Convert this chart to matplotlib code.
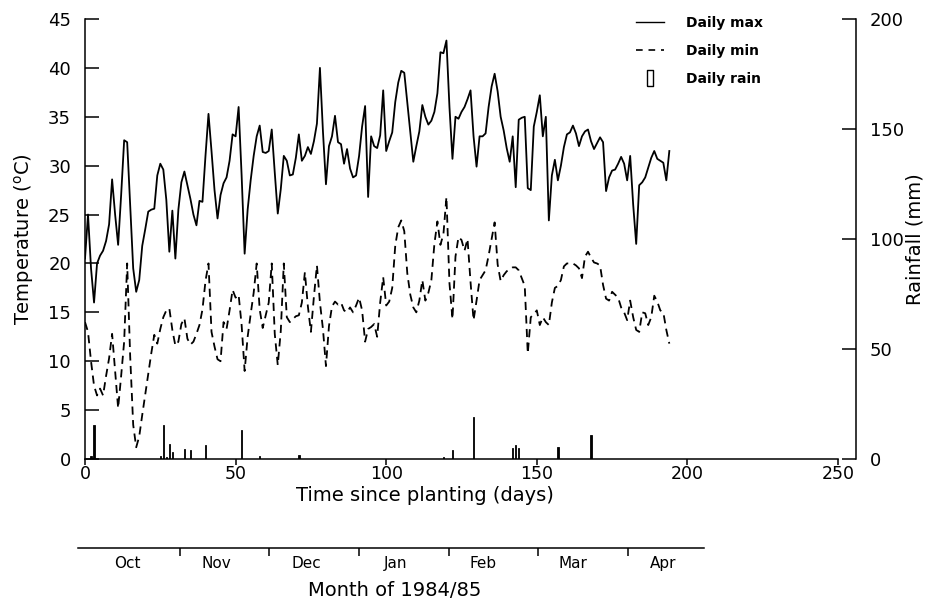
import numpy as np
import matplotlib.pyplot as plt
from matplotlib.lines import Line2D

plt.rcParams['font.family'] = 'DejaVu Sans'

# daily maximum / minimum air temperature (degC), day 0 = planting
tmax = [20.5, 25, 19.5, 16, 20, 20.8, 21.3, 22.3, 24, 28.6,
        25, 21.9, 27, 32.6, 32.4, 26, 19.5, 17.1, 18.3, 21.8,
        23.5, 25.3, 25.5, 25.6, 29, 30.2, 29.6, 26.5, 21.2, 25.4,
        20.5, 25.5, 28.3, 29.4, 28, 26.6, 25, 23.9, 26.4, 26.3,
        31, 35.3, 31.5, 27.5, 24.6, 27, 28.2, 28.8, 30.5, 33.2,
        33, 36, 29, 21, 25.5, 28.5, 31, 33, 34.1, 31.4,
        31.3, 31.5, 33.7, 29.3, 25.1, 27.6, 31, 30.5, 29, 29.1,
        30.8, 33.2, 30.5, 31, 31.9, 31.2, 32.5, 34.3, 40, 33.5,
        28.1, 32, 33, 35.1, 32.4, 32.2, 30.2, 31.7, 29.7, 28.8,
        29, 31, 34, 36.1, 26.8, 33, 32, 31.8, 33.1, 37.7,
        31.5, 32.5, 33.4, 36.5, 38.5, 39.7, 39.5, 36.5, 33.6, 30.4,
        32, 33.5, 36.2, 35, 34.2, 34.6, 35.5, 37.4, 41.6, 41.5,
        42.8, 36, 30.7, 35, 34.8, 35.5, 36, 36.8, 37.7, 33,
        29.9, 33, 33, 33.3, 36, 38.1, 39.4, 37.6, 35, 33.6,
        31.8, 30.4, 33, 27.8, 34.7, 34.9, 35, 27.7, 27.5, 34,
        35.5, 37.2, 33, 35, 24.4, 29, 30.6, 28.5, 30, 31.9,
        33.2, 33.4, 34.1, 33.3, 32, 33, 33.5, 33.7, 32.5, 31.7,
        32.3, 32.9, 32.4, 27.4, 28.8, 29.5, 29.6, 30.2, 30.9, 30.2,
        28.5, 31, 26, 22, 28, 28.3, 28.8, 29.8, 30.8, 31.5,
        30.7, 30.5, 30.3, 28.5, 31.5]

tmin = [14, 13, 10, 7.5, 6.5, 7.2, 6.5, 8.5, 10.3, 12.8,
        9, 5.2, 8.5, 12, 20, 10.5, 3.5, 1.2, 2.3, 4.5,
        6.6, 8.7, 10.8, 12.7, 11.8, 13.3, 14.5, 15.2, 15.4, 13.2,
        11.6, 12, 13.8, 14.4, 12.3, 11.7, 12, 12.8, 13.7, 15.3,
        18.2, 20, 13, 11.5, 10.2, 10, 14, 13.3, 15.2, 17.3,
        16.5, 16.8, 13.7, 9, 12.5, 14.8, 17, 20, 15.3, 13.4,
        14.7, 16, 20, 12.8, 9.6, 13.1, 20, 14.5, 14, 14.3,
        14.6, 14.7, 16, 19.1, 15.6, 13, 16.6, 19.8, 16, 13.3,
        9.5, 13.6, 15.6, 16.1, 15.8, 16, 15.2, 15, 15.5, 15,
        15.7, 16.5, 15.2, 12, 13.3, 13.5, 13.8, 12.5, 16, 18.6,
        15.7, 16.1, 17.5, 21.8, 23.7, 24.4, 23.3, 19, 16.8, 15.5,
        15, 16.2, 18.3, 16.2, 17, 18.3, 22, 24.3, 21.9, 23,
        26.8, 18, 14.3, 20.7, 22.7, 22.4, 21.3, 22.5, 18.1, 14.2,
        16.2, 18.3, 18.8, 19.3, 20.8, 22.5, 24.2, 19.9, 18.2, 18.8,
        19.2, 19.4, 19.6, 19.6, 19.3, 18.5, 17.7, 10.8, 14.5, 14.8,
        15.2, 13.7, 14.5, 14, 13.7, 16, 17.5, 17.7, 18.3, 19.7,
        20, 20, 20, 19.8, 19.5, 18.5, 20.7, 21.2, 20.6, 20.1,
        20, 19.8, 17.8, 16.4, 16.2, 17.1, 16.8, 16.5, 15.5, 15,
        14.2, 16.2, 14.5, 13.2, 13, 15, 14.9, 13.7, 14.5, 16.7,
        16.1, 15.2, 15, 13.2, 11.8]

# rain events (day since planting, mm)
rain_day = [2, 3, 25, 26, 27, 28, 29, 33, 35, 40, 52, 58, 71,
            119, 122, 129, 142, 143, 144, 157, 168]
rain_mm = [1.5, 15.5, 1.5, 15.5, 1, 7, 3, 4.5, 4, 6.5, 13, 1.5, 2,
           1, 4, 19, 5, 6.5, 5, 5.5, 11]

# calendar months below the day axis
months = ['Oct', 'Nov', 'Dec', 'Jan', 'Feb', 'Mar', 'Apr']
month_edges = [31.5, 61.1, 91, 120.9, 150.4, 180.3]
month_mid = [14, 43.5, 73.5, 103, 132, 162, 192]

fig = plt.figure(figsize=(9.37, 6.06), dpi=100)
ax = fig.add_axes([85/937, 1 - 459/606, 753/937, 440/606])

ax.plot(np.arange(len(tmax)), tmax, color='k', lw=1.3)
ax.plot(np.arange(len(tmin)), tmin, color='k', lw=1.3, ls=(0, (4.5, 3)))

ax.set_xlim(0, 250)
ax.set_ylim(0, 45)
ax.set_xticks(np.arange(0, 251, 50))
ax.set_yticks(np.arange(0, 46, 5))
for s in ['top', 'right']:
    ax.spines[s].set_visible(False)
for s in ['left', 'bottom']:
    ax.spines[s].set_linewidth(1.1)
ax.tick_params(axis='y', direction='in', length=10, width=1.1, pad=10, labelsize=13)
ax.tick_params(axis='x', direction='out', length=4, width=1.1, pad=0.5, labelsize=12.5)
ax.set_xlabel('Time since planting (days)', fontsize=14)
ax.xaxis.set_label_coords((425 - 85) / 753, -0.062)
ax.set_ylabel(r'Temperature ($^{\rm o}$C)', fontsize=14)
ax.yaxis.set_label_coords(-0.065, 0.5)

# rainfall on its own scale
ax2 = ax.twinx()
ax2.bar(rain_day, rain_mm, width=0.45, color='k', edgecolor='k', lw=0.6)
ax2.set_ylim(0, 200)
ax2.set_yticks([0, 50, 100, 150, 200])
for s in ['top', 'bottom', 'left']:
    ax2.spines[s].set_visible(False)
ax2.spines['right'].set_position(('outward', 13))
ax2.spines['right'].set_linewidth(1.1)
ax2.tick_params(axis='y', direction='in', length=10, width=1.1, pad=10, labelsize=13)
ax2.set_ylabel('Rainfall (mm)', fontsize=14)
ax2.yaxis.set_label_coords(1.09, 0.5)

rain_marker = [(-0.2, -0.5), (0.2, -0.5), (0.2, 0.5), (-0.2, 0.5), (-0.2, -0.5)]
handles = [Line2D([], [], color='k', lw=1.0),
           Line2D([], [], color='k', lw=1.2, ls=(0, (4, 3.5))),
           Line2D([], [], ls='none', marker=rain_marker, markersize=12,
                  markerfacecolor='white', markeredgecolor='k', markeredgewidth=1.0)]
ax2.legend(handles, ['Daily max', 'Daily min', 'Daily rain'],
           loc='upper left', bbox_to_anchor=(636/937, 1 - 16/606),
           bbox_transform=fig.transFigure, frameon=False, borderpad=0,
           borderaxespad=0, handlelength=2.0, handletextpad=1.6,
           labelspacing=1.0, prop={'weight': 'bold', 'size': 10})

# month axis
mx = fig.add_axes([78/937, 1 - 548/606, (704 - 78)/937, 0.01])
mx.set_xlim(-2.3, 205.5)
mx.set_ylim(0, 1)
for s in ['top', 'right', 'left']:
    mx.spines[s].set_visible(False)
mx.spines['bottom'].set_linewidth(1.1)
mx.set_yticks([])
mx.set_xticks(month_edges)
mx.set_xticklabels([])
mx.set_xticks(month_mid, minor=True)
mx.set_xticklabels(months, minor=True)
mx.tick_params(axis='x', which='major', direction='out', length=6, width=1.1)
mx.tick_params(axis='x', which='minor', length=0, pad=6, labelsize=11)
mx.patch.set_visible(False)
fig.text(395/937, 1 - 590/606, 'Month of 1984/85', fontsize=14, ha='center', va='center')

fig.savefig('out.png', dpi=100)
